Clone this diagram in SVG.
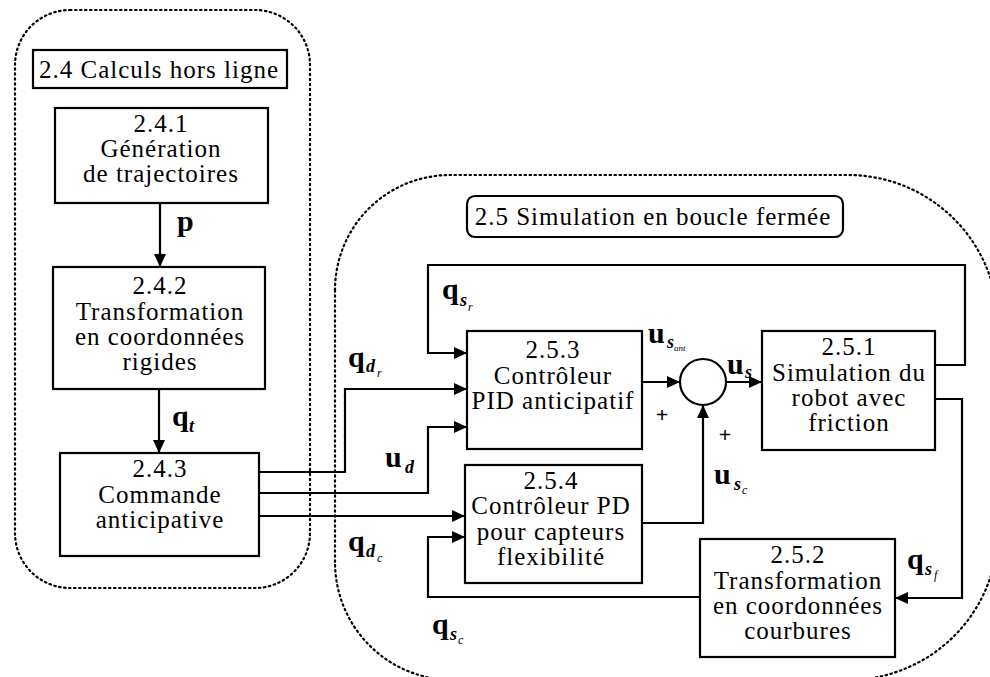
<svg xmlns="http://www.w3.org/2000/svg" width="990" height="677" viewBox="0 0 990 677">
<defs>
<marker id="ah" markerUnits="userSpaceOnUse" markerWidth="14" markerHeight="12" refX="13" refY="6" orient="auto">
<path d="M0,0 L13,6 L0,12 z" fill="#000"/>
</marker>
<style>
.box{fill:#fff;stroke:#000;stroke-width:2.2}
.cont{fill:none;stroke:#000;stroke-width:2.2;stroke-dasharray:1.5 3.5;stroke-linecap:round}
.t{font-family:"Liberation Serif","Times New Roman",serif;font-size:25px;letter-spacing:1px;text-anchor:middle;fill:#000}
.c{fill:none;stroke:#000;stroke-width:2.2;marker-end:url(#ah)}
.v{font-family:"Liberation Serif","Times New Roman",serif;font-weight:bold;font-size:30px;fill:#000}
.s{font-family:"Liberation Serif","Times New Roman",serif;font-style:italic;font-weight:bold;font-size:18px;fill:#000}
.ss{font-family:"Liberation Serif","Times New Roman",serif;font-style:italic;font-size:12px;fill:#000}
.sx{font-family:"Liberation Serif","Times New Roman",serif;font-style:italic;font-size:9px;fill:#000}
.pl{font-family:"Liberation Serif","Times New Roman",serif;font-weight:bold;font-size:22px;fill:#000;text-anchor:middle}
</style>
</defs>

<g id="container-24">
<rect class="cont" x="15" y="10" width="295" height="578" rx="55" ry="55"/>
</g>
<g id="container-25">
<path class="cont" d="M335 290 A115 115 0 0 1 450 175 L848 175 A150 150 0 0 1 998 325 L998 530 A150 150 0 0 1 848 680 L450 680 A118 118 0 0 1 335 562 Z"/>
</g>

<g id="connectors">
<path class="c" d="M160 203 V267"/>
<path class="c" d="M159 389 V453"/>
<path class="c" d="M259 472 H345 V389 H467"/>
<path class="c" d="M259 493 H428 V427 H467"/>
<path class="c" d="M259 516 H465"/>
<path class="c" d="M935 365 H965 V265 H428 V353 H467"/>
<path class="c" d="M642 382 H680"/>
<path class="c" d="M726 382 H762"/>
<path class="c" d="M642 523 H703 V405"/>
<path class="c" d="M935 399 H962 V598 H895"/>
<path class="c" d="M700 597 H428 V537 H465"/>
</g>

<g id="title-24">
<rect class="box" x="33" y="50" width="254" height="38"/>
<text class="t" x="159" y="78">2.4 Calculs hors ligne</text>
</g>
<g id="title-25">
<rect class="box" x="467" y="196" width="376" height="41" rx="8" ry="8"/>
<text class="t" x="653" y="225">2.5 Simulation en boucle fermée</text>
</g>

<g id="n241">
<rect class="box" x="55" y="108" width="213" height="95"/>
<text class="t" x="161" y="132">2.4.1</text>
<text class="t" x="161" y="157">Génération</text>
<text class="t" x="161" y="182">de trajectoires</text>
</g>
<g id="n242">
<rect class="box" x="53" y="267" width="212" height="122"/>
<text class="t" x="160" y="294">2.4.2</text>
<text class="t" x="160" y="320">Transformation</text>
<text class="t" x="160" y="345">en coordonnées</text>
<text class="t" x="160" y="370">rigides</text>
</g>
<g id="n243">
<rect class="box" x="60" y="453" width="199" height="103"/>
<text class="t" x="160" y="477">2.4.3</text>
<text class="t" x="160" y="503">Commande</text>
<text class="t" x="160" y="528">anticipative</text>
</g>
<g id="n253">
<rect class="box" x="467" y="331" width="175" height="118"/>
<text class="t" x="553" y="358">2.5.3</text>
<text class="t" x="553" y="384">Contrôleur</text>
<text class="t" x="553" y="409">PID anticipatif</text>
</g>
<g id="n254">
<rect class="box" x="465" y="465" width="177" height="118"/>
<text class="t" x="551" y="489">2.5.4</text>
<text class="t" x="551" y="514">Contrôleur PD</text>
<text class="t" x="551" y="540">pour capteurs</text>
<text class="t" x="551" y="565">flexibilité</text>
</g>
<g id="n251">
<rect class="box" x="762" y="331" width="173" height="119"/>
<text class="t" x="849" y="355">2.5.1</text>
<text class="t" x="849" y="381">Simulation du</text>
<text class="t" x="849" y="406">robot avec</text>
<text class="t" x="849" y="431">friction</text>
</g>
<g id="n252">
<rect class="box" x="700" y="539" width="195" height="118"/>
<text class="t" x="798" y="563">2.5.2</text>
<text class="t" x="798" y="589">Transformation</text>
<text class="t" x="798" y="614">en coordonnées</text>
<text class="t" x="798" y="639">courbures</text>
</g>
<g id="sum">
<circle cx="703" cy="382" r="23" fill="#fff" stroke="#000" stroke-width="2.2"/>
</g>

<g id="labels">
<text class="v" x="177" y="231">p</text>
<text class="v" x="172" y="426">q</text><text class="s" x="189" y="432">t</text>
<text class="v" x="442" y="299">q</text><text class="s" x="460" y="306">s</text><text class="ss" x="468" y="311">r</text>
<text class="v" x="348" y="367">q</text><text class="s" x="366" y="372">d</text><text class="ss" x="377" y="377">r</text>
<text class="v" x="648" y="343">u</text><text class="s" x="667" y="348">s</text><text class="sx" x="674" y="351">ant</text>
<text class="v" x="727" y="374">u</text><text class="s" x="745" y="378">s</text>
<text class="pl" x="662" y="422">+</text>
<text class="pl" x="725" y="442">+</text>
<text class="v" x="714" y="484">u</text><text class="s" x="734" y="490">s</text><text class="ss" x="742" y="494">c</text>
<text class="v" x="385" y="467">u</text><text class="s" x="405" y="473">d</text>
<text class="v" x="348" y="551">q</text><text class="s" x="366" y="557">d</text><text class="ss" x="377" y="562">c</text>
<text class="v" x="432" y="634">q</text><text class="s" x="450" y="640">s</text><text class="ss" x="458" y="644">c</text>
<text class="v" x="907" y="569">q</text><text class="s" x="925" y="575">s</text><text class="ss" x="934" y="579">f</text>
</g>
</svg>
